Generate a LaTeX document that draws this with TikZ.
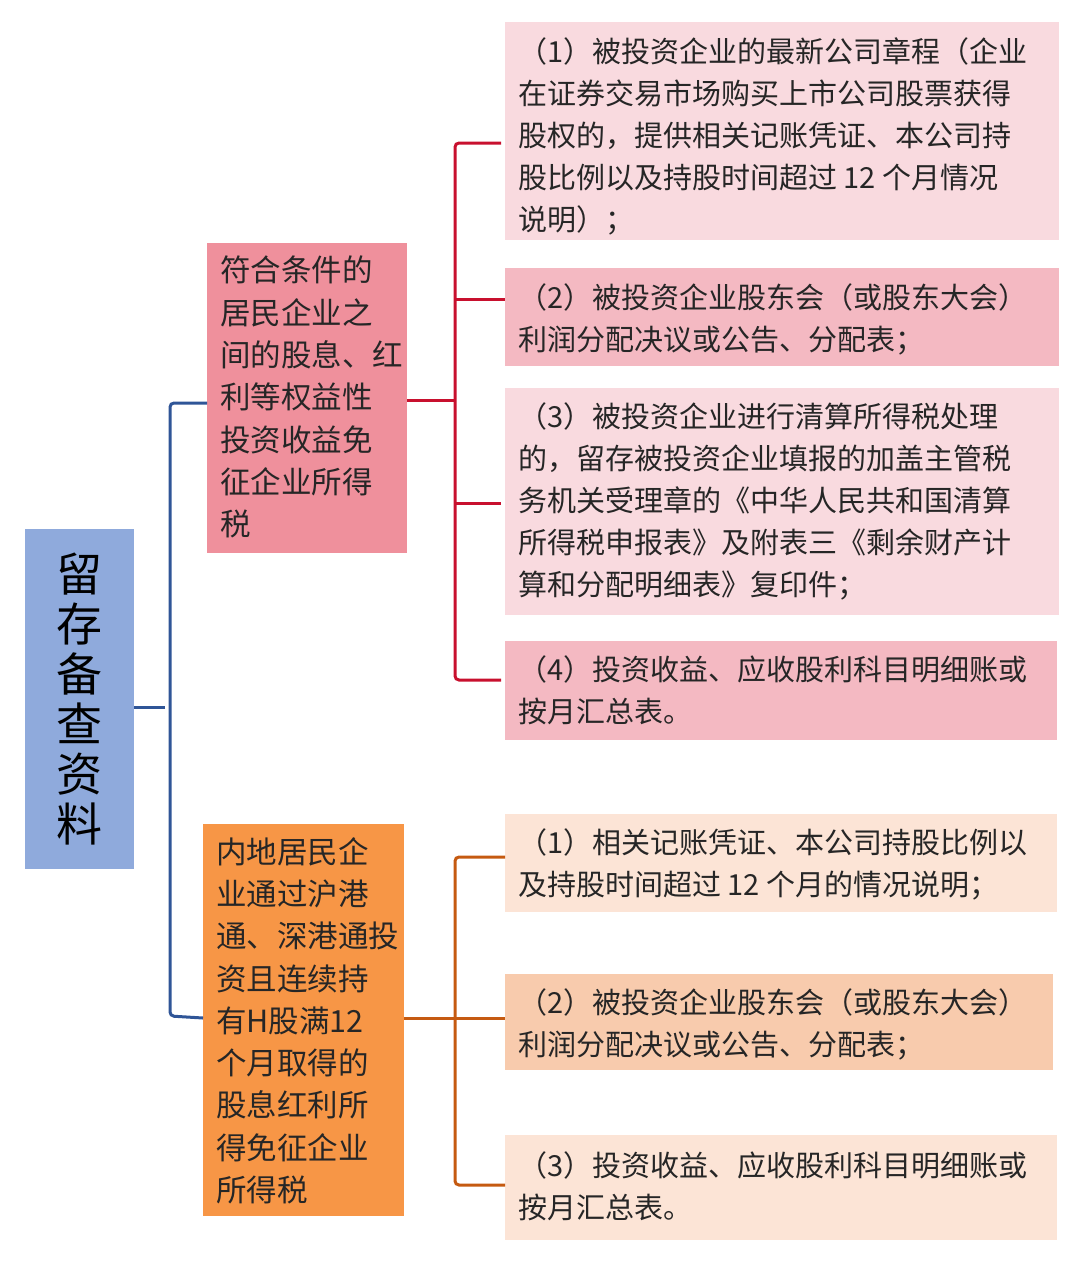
\documentclass[tikz,border=0pt]{standalone}
\usepackage{fontspec}
\setmainfont{Noto Sans CJK SC}
\begin{document}
\begin{tikzpicture}[x=1pt,y=-1pt,
  txt/.style={anchor=north west,align=left,inner sep=0pt,font=\fontsize{29}{42}\selectfont,text=black!85},
  ltxt/.style={anchor=north west,align=left,inner sep=0pt,font=\fontsize{30.5}{42.3}\selectfont,text=black!85},
  bl/.style={draw=blueL,line width=3pt},
  rd/.style={draw=redL,line width=3pt},
  og/.style={draw=orgL,line width=3pt}]
\definecolor{rootc}{HTML}{8FAADC}
\definecolor{pinkA}{HTML}{EF909C}
\definecolor{orgB}{HTML}{F79646}
\definecolor{lp}{HTML}{F9DADF}
\definecolor{dp}{HTML}{F4B9C2}
\definecolor{lo}{HTML}{FCE4D6}
\definecolor{do}{HTML}{F8CBAD}
\definecolor{blueL}{HTML}{2F5597}
\definecolor{redL}{HTML}{C8102E}
\definecolor{orgL}{HTML}{C55A11}
\useasboundingbox (0,0) rectangle (1080,1263);
% boxes
\fill[rootc] (25,529) rectangle (134,869);
\node[inner sep=0pt,font=\fontsize{46}{50}\selectfont,align=center] (root) at (79.5,699) {留\\存\\备\\查\\资\\料};
\coordinate (rootR) at (134,707);
\fill[pinkA] (207,243) rectangle (407,553);
\node[ltxt] (a) at (220,256) {符合条件的\\居民企业之\\间的股息、红\\利等权益性\\投资收益免\\征企业所得\\税};
\coordinate (aL) at (207,403); \coordinate (aR) at (407,400);
\fill[orgB] (203,824) rectangle (404,1216);
\node[ltxt] (b) at (216,837) {内地居民企\\业通过沪港\\通、深港通投\\资且连续持\\有H股满12\\个月取得的\\股息红利所\\得免征企业\\所得税};
\coordinate (bL) at (203,1018); \coordinate (bR) at (404,1018);
\fill[lp] (505,22) rectangle (1059,240);
\node[txt] (a1) at (518,37) {（1）被投资企业的最新公司章程（企业\\在证券交易市场购买上市公司股票获得\\股权的，提供相关记账凭证、本公司持\\股比例以及持股时间超过 12 个月情况\\说明）；};
\fill[dp] (505,268) rectangle (1059,366);
\node[txt] (a2) at (518,283) {（2）被投资企业股东会（或股东大会）\\利润分配决议或公告、分配表；};
\fill[lp] (505,388) rectangle (1059,615);
\node[txt] (a3) at (518,402) {（3）被投资企业进行清算所得税处理\\的，留存被投资企业填报的加盖主管税\\务机关受理章的《中华人民共和国清算\\所得税申报表》及附表三《剩余财产计\\算和分配明细表》复印件；};
\fill[dp] (505,641) rectangle (1057,740);
\node[txt] (a4) at (518,655) {（4）投资收益、应收股利科目明细账或\\按月汇总表。};
\fill[lo] (505,814) rectangle (1057,912);
\node[txt] (b1) at (518,828) {（1）相关记账凭证、本公司持股比例以\\及持股时间超过 12 个月的情况说明；};
\fill[do] (505,974) rectangle (1053,1070);
\node[txt] (b2) at (518,988) {（2）被投资企业股东会（或股东大会）\\利润分配决议或公告、分配表；};
\fill[lo] (505,1135) rectangle (1057,1240);
\node[txt] (b3) at (518,1151) {（3）投资收益、应收股利科目明细账或\\按月汇总表。};
% connectors
\draw[bl] (rootR) -- (165,707);
\draw[bl,rounded corners=4pt] (aL) -- (170,403) -- (170,1016) -- (bL);
\draw[rd] (aR) -- (455,400);
\draw[rd,rounded corners=4pt] (501,143) -- (455,143) -- (455,680) -- (501,680);
\draw[rd] (455,299) -- (505,299);
\draw[rd] (455,503) -- (501,503);
\draw[og] (bR) -- (505,1018);
\draw[og,rounded corners=4pt] (505,857) -- (455,857) -- (455,1185) -- (505,1185);
\end{tikzpicture}
\end{document}
